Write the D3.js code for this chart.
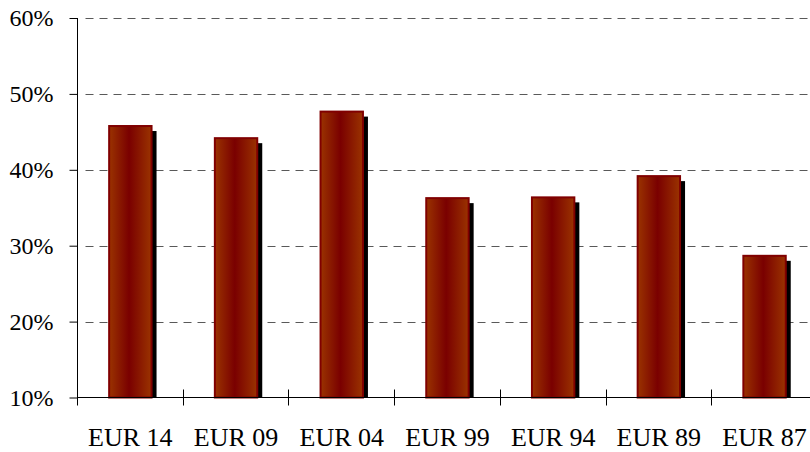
<!DOCTYPE html>
<html>
<head>
<meta charset="utf-8">
<script src="https://cdn.jsdelivr.net/npm/d3@7"></script>
<style>
  body { margin: 0; background: #fff; }
  svg { display: block; }
  svg text { font-family: "Liberation Serif", "Times New Roman", Times, serif; fill: #000; }
</style>
</head>
<body>
<div class="svg"></div>
<script>
var categories = ['EUR 14', 'EUR 09', 'EUR 04', 'EUR 99', 'EUR 94', 'EUR 89', 'EUR 87'];
var turnout = [45.9, 44.3, 47.8, 36.4, 36.5, 39.3, 28.8];
var yTicks = [10, 20, 30, 40, 50, 60];

var width = 810, height = 452;
var plotLeft = 77.5, plotTop = 18, plotBottom = 397.5, step = 105.7;

var svg = d3.select('body .svg').append('svg')
  .attr('width', width)
  .attr('height', height);

var x = d3.scaleBand()
  .domain(categories)
  .range([plotLeft, plotLeft + step * categories.length])
  .paddingInner(0.58)
  .paddingOuter(0.29);

var y = d3.scaleLinear()
  .domain([10, 60])
  .range([plotBottom, plotTop]);

// gradient for bars: light at edges, dark in the middle
var defs = svg.append('defs');
var grad = defs.append('linearGradient')
  .attr('id', 'barGrad')
  .attr('x1', '0%').attr('x2', '100%')
  .attr('y1', '0%').attr('y2', '0%');
grad.append('stop').attr('offset', '0%').attr('stop-color', '#9a3300');
grad.append('stop').attr('offset', '47%').attr('stop-color', '#7a0000');
grad.append('stop').attr('offset', '100%').attr('stop-color', '#9a3300');

// dashed grid
svg.append('g')
  .selectAll('line')
  .data(yTicks.slice(1))
  .enter().append('line')
    .attr('x1', plotLeft + 8)
    .attr('x2', width)
    .attr('y1', function(d) { return Math.round(y(d)) + 0.5; })
    .attr('y2', function(d) { return Math.round(y(d)) + 0.5; })
    .attr('stroke', '#595959')
    .attr('stroke-dasharray', '8,6');

// shadows first, then bars
var barW = x.bandwidth();

svg.append('g')
  .selectAll('rect')
  .data(turnout)
  .enter().append('rect')
    .attr('x', function(d, i) { return x(categories[i]) + 4; })
    .attr('y', function(d) { return y(d) + 6; })
    .attr('width', barW)
    .attr('height', function(d) { return plotBottom - y(d) - 6; })
    .attr('fill', '#000');

svg.append('g')
  .selectAll('rect')
  .data(turnout)
  .enter().append('rect')
    .attr('x', function(d, i) { return x(categories[i]) + 1; })
    .attr('y', function(d) { return y(d) + 1; })
    .attr('width', barW - 2)
    .attr('height', function(d) { return plotBottom - y(d) - 1; })
    .attr('fill', 'url(#barGrad)')
    .attr('stroke', '#800000')
    .attr('stroke-width', 2);

// axes
var yAxis = d3.axisLeft(y)
  .tickValues(yTicks)
  .tickSize(8)
  .tickPadding(16)
  .tickFormat(function(d) { return d + '%'; });

var gy = svg.append('g')
  .attr('transform', 'translate(' + plotLeft + ',0)')
  .call(yAxis)
  .attr('font-family', null)
  .attr('font-size', 24);
gy.select('.domain').remove();
gy.selectAll('.tick line').attr('stroke', '#000');
gy.selectAll('.tick text').attr('fill', '#000');
gy.append('line')
  .attr('x1', 0).attr('x2', 0)
  .attr('y1', plotTop).attr('y2', plotBottom)
  .attr('stroke', '#000');

var xTickPos = d3.range(categories.length + 1).map(function(i) { return plotLeft + i * step; });

var gx = svg.append('g');
gx.append('line')
  .attr('x1', plotLeft).attr('x2', width)
  .attr('y1', plotBottom).attr('y2', plotBottom)
  .attr('stroke', '#000');
gx.selectAll('line.tk')
  .data(xTickPos)
  .enter().append('line')
    .attr('class', 'tk')
    .attr('x1', function(d) { return Math.floor(d) + 0.5; })
    .attr('x2', function(d) { return Math.floor(d) + 0.5; })
    .attr('y1', plotBottom - 8)
    .attr('y2', plotBottom + 8)
    .attr('stroke', '#000');
gx.selectAll('text')
  .data(categories)
  .enter().append('text')
    .attr('x', function(d) { return x(d) + barW / 2; })
    .attr('y', 446)
    .attr('text-anchor', 'middle')
    .attr('font-size', 26)
    .text(function(d) { return d; });
</script>
</body>
</html>
